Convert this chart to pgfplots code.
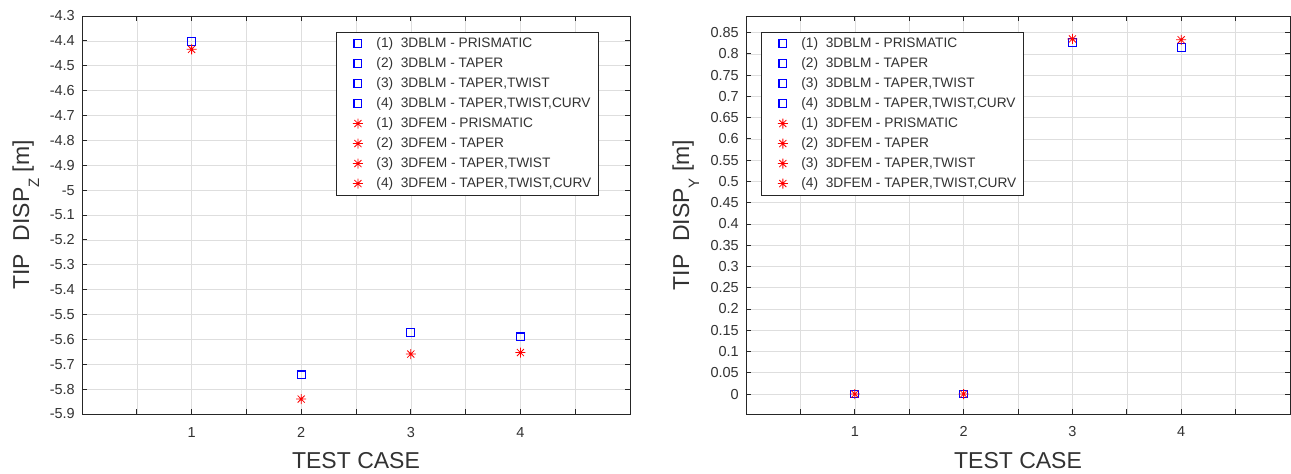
\documentclass[border=0pt]{standalone}
\usepackage{fontspec}
\setmainfont{Liberation Sans}
\usepackage{pgfplots}
\pgfplotsset{compat=1.18}
\definecolor{gridgray}{RGB}{222,222,222}
\definecolor{axgray}{RGB}{38,38,38}
\definecolor{txtgray}{RGB}{50,50,50}
\pgfdeclareplotmark{mstar}{%
  \pgfpathmoveto{\pgfqpoint{-\pgfplotmarksize}{0pt}}\pgfpathlineto{\pgfqpoint{\pgfplotmarksize}{0pt}}%
  \pgfpathmoveto{\pgfqpoint{0pt}{-\pgfplotmarksize}}\pgfpathlineto{\pgfqpoint{0pt}{\pgfplotmarksize}}%
  \pgfpathmoveto{\pgfqpointpolar{45}{\pgfplotmarksize}}\pgfpathlineto{\pgfqpointpolar{225}{\pgfplotmarksize}}%
  \pgfpathmoveto{\pgfqpointpolar{135}{\pgfplotmarksize}}\pgfpathlineto{\pgfqpointpolar{315}{\pgfplotmarksize}}%
  \pgfusepathqstroke}
\newcommand{\sub}[1]{\raisebox{-10pt}{\fontsize{15}{16}\selectfont #1}}
\pgfplotsset{
  mylegimg/.style={legend image code/.code={\path (0pt,0pt) (22pt,0pt); \draw[##1] plot coordinates {(15pt,0pt)};}},
  common/.style={
    scale only axis,
    height=398pt,
    xmin=0, xmax=5,
    xtick={0.5,1,1.5,2,2.5,3,3.5,4,4.5},
    xticklabels={{},1,{},2,{},3,{},4,{}},
    grid=major,
    major grid style={gridgray, line width=0.6pt},
    axis line style={axgray, line width=0.8pt},
    tick style={axgray, line width=0.8pt},
    tick align=inside,
    major tick length=5pt,
    /pgf/number format/assume math mode=true,
    /pgf/number format/fixed,
    /pgf/number format/precision=2,
    ticklabel style={font=\fontsize{14.5}{16}\selectfont, text=txtgray},
    xticklabel style={anchor=base, inner sep=0pt, yshift=-23pt},
    yticklabel style={anchor=east, inner sep=0pt, xshift=-7pt},
    label style={font=\fontsize{23}{26}\selectfont, text=txtgray},
    xlabel={TEST CASE},
    xlabel style={at={(axis description cs:0.5,-0.1357)}, anchor=base},
    every axis plot/.append style={only marks, mylegimg},
    legend cell align=left,
    legend style={draw=axgray, line width=0.7pt, fill=white,
      font=\fontsize{13.7}{15}\selectfont, text=txtgray,
      inner xsep=6pt, inner ysep=4pt, column sep=10pt, row sep=5.4pt,
      nodes={inner sep=1pt, text height=9.8pt, text depth=2.8pt},
      anchor=north west},
  },
  bsq/.style={mark=square, color=blue, mark size=3.9pt, line width=1.1pt, mark options={draw=blue, fill=none, line width=1.1pt}},
  rst/.style={mark=mstar, color=red, mark size=5pt, line width=0.8pt, mark options={draw=red, line width=0.8pt}},
}
\begin{document}
\begin{tikzpicture}
\path[use as bounding box] (0pt,0pt) rectangle (1291pt,474pt);
\begin{axis}[common, at={(82pt,60pt)}, anchor=south west, width=548pt,
  ymin=-5.9, ymax=-4.3,
  ytick={-5.9,-5.8,-5.7,-5.6,-5.5,-5.4,-5.3,-5.2,-5.1,-5,-4.9,-4.8,-4.7,-4.6,-4.5,-4.4,-4.3},
  ylabel={TIP\ \ DISP\sub{Z} [m]},
  ylabel style={at={(axis description cs:-0.0967,0.5)}, anchor=base},
  legend style={at={(axis description cs:0.4635,0.96)}},
]
\addplot[bsq] coordinates {(1,-4.403)};
\addlegendentry{(1)\ \ 3DBLM - PRISMATIC}
\addplot[bsq] coordinates {(2,-5.743)};
\addlegendentry{(2)\ \ 3DBLM - TAPER}
\addplot[bsq] coordinates {(3,-5.572)};
\addlegendentry{(3)\ \ 3DBLM - TAPER,TWIST}
\addplot[bsq] coordinates {(4,-5.590)};
\addlegendentry{(4)\ \ 3DBLM - TAPER,TWIST,CURV}
\addplot[rst] coordinates {(1,-4.434)};
\addlegendentry{(1)\ \ 3DFEM - PRISMATIC}
\addplot[rst] coordinates {(2,-5.840)};
\addlegendentry{(2)\ \ 3DFEM - TAPER}
\addplot[rst] coordinates {(3,-5.659)};
\addlegendentry{(3)\ \ 3DFEM - TAPER,TWIST}
\addplot[rst] coordinates {(4,-5.653)};
\addlegendentry{(4)\ \ 3DFEM - TAPER,TWIST,CURV}
\end{axis}
\begin{axis}[common, at={(746pt,60pt)}, anchor=south west, width=544pt,
  ymin=-0.047, ymax=0.889,
  ytick={0,0.05,0.1,0.15,0.2,0.25,0.3,0.35,0.4,0.45,0.5,0.55,0.6,0.65,0.7,0.75,0.8,0.85},
  ylabel={TIP\ \ DISP\sub{Y} [m]},
  ylabel style={at={(axis description cs:-0.1046,0.5)}, anchor=base},
  legend style={at={(axis description cs:0.0275,0.96)}},
]
\addplot[bsq] coordinates {(1,0)};
\addlegendentry{(1)\ \ 3DBLM - PRISMATIC}
\addplot[bsq] coordinates {(2,0)};
\addlegendentry{(2)\ \ 3DBLM - TAPER}
\addplot[bsq] coordinates {(3,0.827)};
\addlegendentry{(3)\ \ 3DBLM - TAPER,TWIST}
\addplot[bsq] coordinates {(4,0.815)};
\addlegendentry{(4)\ \ 3DBLM - TAPER,TWIST,CURV}
\addplot[rst] coordinates {(1,0)};
\addlegendentry{(1)\ \ 3DFEM - PRISMATIC}
\addplot[rst] coordinates {(2,0)};
\addlegendentry{(2)\ \ 3DFEM - TAPER}
\addplot[rst] coordinates {(3,0.835)};
\addlegendentry{(3)\ \ 3DFEM - TAPER,TWIST}
\addplot[rst] coordinates {(4,0.833)};
\addlegendentry{(4)\ \ 3DFEM - TAPER,TWIST,CURV}
\end{axis}
\end{tikzpicture}
\end{document}
